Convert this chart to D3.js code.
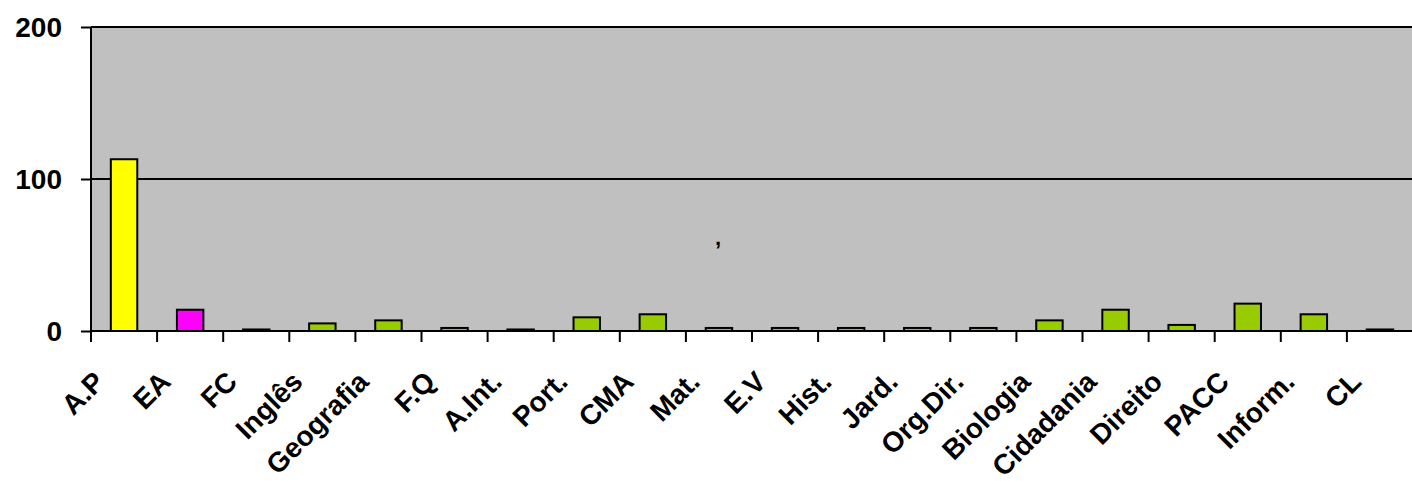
<!DOCTYPE html>
<html>
<head>
<meta charset="utf-8">
<script src="https://cdn.jsdelivr.net/npm/d3@7"></script>
<style>
  html, body { margin: 0; padding: 0; background: #fff; }
  #wrap { position: relative; width: 1412px; height: 481px; overflow: hidden; }
  svg { display: block; position: absolute; left: 0; top: 0; }
  text { font-family: Arial, "Liberation Sans", sans-serif; font-weight: bold; fill: #000; }
  .xlab { position: absolute; font-family: Arial, "Liberation Sans", sans-serif; font-weight: bold; font-size: 28px; line-height: 1; white-space: nowrap; color: #000; transform-origin: 100% 100%; transform: rotate(-45deg); }
</style>
</head>
<body>
<div id="wrap"><svg id="chart" width="1412" height="481"></svg></div>
<script>
const categories = ["A.P","EA","FC","Inglês","Geografia","F.Q","A.Int.","Port.","CMA","Mat.","E.V","Hist.","Jard.","Org.Dir.","Biologia","Cidadania","Direito","PACC","Inform.","CL"];
const values = [113,14,1,5,7,2,1,9,11,2,2,2,2,2,7,14,4,18,11,1];
const barColors = ["#FFFF00","#FF00FF","#99CC00","#99CC00","#99CC00","#99CC00","#99CC00","#99CC00","#99CC00","#99CC00","#99CC00","#99CC00","#99CC00","#99CC00","#99CC00","#99CC00","#99CC00","#99CC00","#99CC00","#99CC00"];
const yTicks = [0,100,200];

(function(){
const svg = d3.select("#chart");
const pLeft = 91, pRight = 1413, pTop = 27, pBottom = 331;

const x = d3.scaleBand().domain(categories).range([pLeft, pRight]).paddingInner(0).paddingOuter(0);
const y = d3.scaleLinear().domain([0,200]).range([pBottom, pTop]);

svg.append("rect").attr("x", pLeft).attr("y", pTop).attr("width", pRight-pLeft).attr("height", pBottom-pTop).attr("fill", "#C0C0C0");

svg.append("g").selectAll("line").data(yTicks.filter(d=>d>0)).join("line")
  .attr("x1", pLeft).attr("x2", pRight)
  .attr("y1", d=>y(d)).attr("y2", d=>y(d))
  .attr("stroke", "#000").attr("stroke-width", 2);

const bw = x.bandwidth()*0.4;
svg.append("g").selectAll("rect").data(categories).join("rect")
  .attr("x", d=>x(d)+x.bandwidth()/2-bw/2)
  .attr("y", (d,i)=>y(values[i]))
  .attr("width", bw)
  .attr("height", (d,i)=>pBottom-y(values[i]))
  .attr("fill", (d,i)=>barColors[i])
  .attr("stroke", "#000").attr("stroke-width", 2);

const yAxis = d3.axisLeft(y).tickValues(yTicks).tickSize(10).tickPadding(10).tickFormat(d3.format("d"));
const gy = svg.append("g").attr("transform", `translate(${pLeft},0)`).call(yAxis);
gy.select(".domain").attr("stroke", "#000").attr("stroke-width", 2).attr("d", `M0,${pTop}V${pBottom}`);
gy.selectAll(".tick line").attr("stroke", "#000").attr("stroke-width", 2);
gy.selectAll(".tick text").style("font-size", "28px").style("font-family", "Arial, 'Liberation Sans', sans-serif").style("font-weight", "bold").attr("fill", "#000").attr("dy", "0.35em").attr("x", -29);

const boundaries = d3.range(categories.length).map(i => pLeft + i*x.bandwidth());
svg.append("line").attr("x1", pLeft).attr("x2", pRight).attr("y1", pBottom).attr("y2", pBottom).attr("stroke", "#000").attr("stroke-width", 2);
svg.append("g").selectAll("line").data(boundaries).join("line")
  .attr("x1", d=>d).attr("x2", d=>d)
  .attr("y1", pBottom).attr("y2", pBottom+11)
  .attr("stroke", "#000").attr("stroke-width", 2);

// rotated x labels as HTML, anchored at their bottom-right corner
d3.select("#wrap").selectAll("div.xlab").data(categories).join("div")
  .attr("class", "xlab")
  .text(d=>d)
  .each(function(d){
    const w = this.offsetWidth, h = this.offsetHeight;
    const ax = x(d)+x.bandwidth()/2-14, ay = pBottom+56;
    this.style.left = (ax - w) + "px";
    this.style.top = (ay - h) + "px";
  });

svg.append("text").attr("x", 715).attr("y", 245).style("font-size", "22px").text(",");
})();
</script>
</body>
</html>
